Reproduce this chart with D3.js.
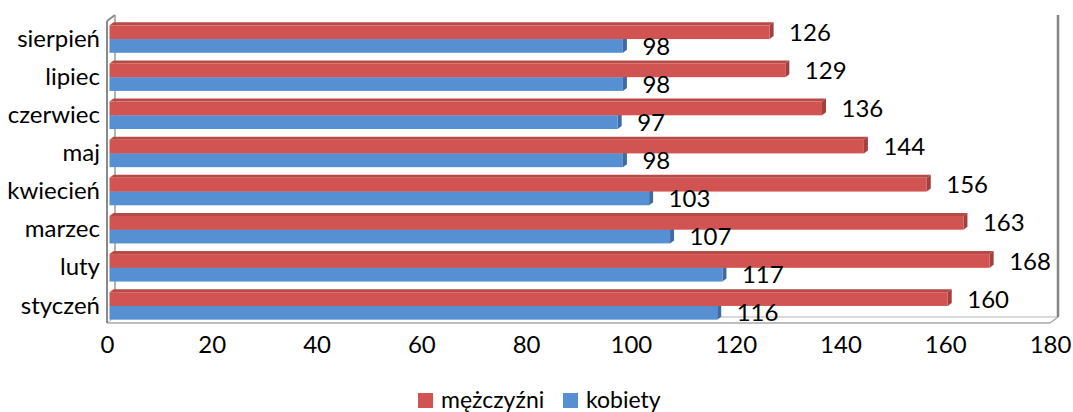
<!DOCTYPE html>
<html>
<head>
<meta charset="utf-8">
<script src="https://cdnjs.cloudflare.com/ajax/libs/d3/7.8.5/d3.min.js"></script>
<style>
  html, body { margin: 0; padding: 0; background: #fff; }
  svg text { font-family: Lato, "Noto Sans", sans-serif; fill: #000; }
</style>
</head>
<body>
<div id="chart"></div>
<script>
var categories = ['styczeń', 'luty', 'marzec', 'kwiecień', 'maj', 'czerwiec', 'lipiec', 'sierpień'];
var seriesNames = ['mężczyźni', 'kobiety'];
var men = [160, 168, 163, 156, 144, 136, 129, 126];
var women = [116, 117, 107, 103, 98, 97, 98, 98];
var tickValues = [0, 20, 40, 60, 80, 100, 120, 140, 160, 180];

(function () {
    'use strict';

    var W = 1073, H = 412,
        wallDx = 8, wallDy = -6,     // depth of walls/floor
        barDx = 4, barDy = -3,       // depth of the bars
        barOff = 2.5;                // bars sit a bit behind the front plane

    var colors = {
        'mężczyźni': { front: '#D15452', top: '#B64A47', side: '#A3403D' },
        'kobiety':   { front: '#568FD2', top: '#4978B6', side: '#3E6BA6' }
    };

    var svg = d3.select('#chart').append('svg')
        .attr('width', W)
        .attr('height', H);

    var x = d3.scaleLinear().domain([0, 180]).range([107, 1050]);

    var y = d3.scaleBand()
        .domain(categories.slice().reverse())
        .range([20, 325])
        .paddingInner(0.28)
        .paddingOuter(0.14);

    var ySub = d3.scaleBand()
        .domain(seriesNames)
        .range([0, y.bandwidth()]);

    var floorY = 323, topY = 21;

    // walls and floor
    var walls = svg.append('g').attr('class', 'walls')
        .style('fill', 'none')
        .style('stroke', '#8a8a8a');

    function line(g, x1, y1, x2, y2, w, c) {
        g.append('line')
            .attr('x1', x1).attr('y1', y1)
            .attr('x2', x2).attr('y2', y2)
            .style('stroke-width', w)
            .style('stroke', c || null);
    }

    var x0 = x(0), x1 = x(180);
    // floor
    line(walls, x0 + wallDx, floorY + wallDy, x1 + wallDx, floorY + wallDy, 1, '#b5b5b5');
    line(walls, x0, floorY, x1, floorY, 1.5, '#a8a8a8');
    line(walls, x1, floorY, x1 + wallDx, floorY + wallDy, 1.5, '#a8a8a8');
    line(walls, x0, floorY, x0 + wallDx, floorY + wallDy, 1, '#b5b5b5');
    // left side wall
    line(walls, x0, floorY, x0, topY, 2);
    line(walls, x0, topY, x0 + wallDx, topY + wallDy, 2);
    line(walls, x0 + wallDx, topY + wallDy, x0 + wallDx, floorY + wallDy, 1.5, '#9a9a9a');
    // right edge of back wall
    line(walls, x1 + wallDx, topY + wallDy, x1 + wallDx, floorY + wallDy, 2.5, '#858585');

    // bars
    var bars = svg.append('g').attr('class', 'bars');

    function drawBar(g, cat, name, v) {
        var c = colors[name],
            xa = x(0) + barOff,
            xb = x(v) + barOff,
            yt = y(cat) + ySub(name),
            h = ySub.bandwidth();

        // top face
        g.append('path')
            .attr('d', 'M' + xa + ',' + yt +
                'L' + (xa + barDx) + ',' + (yt + barDy) +
                'L' + (xb + barDx) + ',' + (yt + barDy) +
                'L' + xb + ',' + yt + 'Z')
            .style('fill', c.top);
        // end face
        g.append('path')
            .attr('d', 'M' + xb + ',' + yt +
                'L' + (xb + barDx) + ',' + (yt + barDy) +
                'L' + (xb + barDx) + ',' + (yt + h + barDy) +
                'L' + xb + ',' + (yt + h) + 'Z')
            .style('fill', c.side);
        // front face
        g.append('rect')
            .attr('x', xa)
            .attr('y', yt)
            .attr('width', xb - xa)
            .attr('height', h)
            .style('fill', c.front);
    }

    // draw from back (top) to front (bottom), blue first so red covers its top
    var order = categories.slice().reverse();
    order.forEach(function (cat) {
        var i = categories.indexOf(cat);
        drawBar(bars, cat, 'kobiety', women[i]);
        drawBar(bars, cat, 'mężczyźni', men[i]);
    });

    // value labels
    var labels = svg.append('g').attr('class', 'values')
        .style('font-size', '24px');

    categories.forEach(function (cat, i) {
        [['mężczyźni', men[i]], ['kobiety', women[i]]].forEach(function (d) {
            labels.append('text')
                .attr('x', x(d[1]) + 22)
                .attr('y', y(cat) + ySub(d[0]) + ySub.bandwidth() / 2)
                .attr('dy', '0.36em')
                .text(d[1]);
        });
    });

    // category axis labels
    svg.append('g').attr('class', 'cats')
        .style('font-size', '24px')
        .selectAll('text')
        .data(categories)
        .enter().append('text')
        .attr('x', 100)
        .attr('y', function (d) { return y(d) + y.bandwidth() / 2; })
        .attr('dy', '0.32em')
        .attr('text-anchor', 'end')
        .text(function (d) { return d; });

    // value axis
    var xAxis = d3.axisBottom(x)
        .tickValues(tickValues)
        .tickSize(0)
        .tickPadding(0)
        .tickFormat(d3.format('d'));

    var ax = svg.append('g')
        .attr('transform', 'translate(0,' + 353 + ')')
        .call(xAxis);
    ax.select('.domain').remove();
    ax.selectAll('text')
        .attr('dy', 0)
        .attr('y', 0)
        .style('font-size', '24px')
        .style('font-family', 'Lato, "Noto Sans", sans-serif')
        .style('fill', '#000');

    // legend
    var legend = svg.append('g').attr('class', 'legend')
        .style('font-size', '23px');
    var legX = [418, 563];
    seriesNames.forEach(function (name, i) {
        legend.append('rect')
            .attr('x', legX[i])
            .attr('y', 393)
            .attr('width', 15)
            .attr('height', 15)
            .style('fill', colors[name].front);
        legend.append('text')
            .attr('x', legX[i] + 23)
            .attr('y', 408)
            .text(name);
    });
})();
</script>
</body>
</html>
